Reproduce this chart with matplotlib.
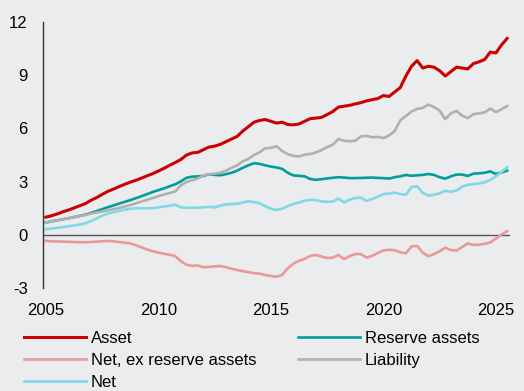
import numpy as np
import matplotlib
matplotlib.use("Agg")
import matplotlib.pyplot as plt

plt.rcParams['font.family'] = ['Liberation Sans', 'DejaVu Sans']

# quarterly observations, 2005Q1 .. 2025Q3
dates = 2005 + np.arange(83) * 0.25

asset = [1.00, 1.08, 1.18, 1.30, 1.40, 1.52, 1.64, 1.76, 1.95, 2.10,
         2.28, 2.45, 2.58, 2.72, 2.85, 2.97, 3.08, 3.20, 3.33, 3.45,
         3.60, 3.75, 3.92, 4.08, 4.25, 4.50, 4.62, 4.65, 4.80, 4.95,
         5.00, 5.10, 5.25, 5.40, 5.55, 5.85, 6.10, 6.35, 6.45, 6.50,
         6.40, 6.30, 6.35, 6.22, 6.20, 6.25, 6.40, 6.55, 6.58, 6.62,
         6.78, 6.95, 7.20, 7.25, 7.30, 7.38, 7.45, 7.55, 7.62, 7.68,
         7.85, 7.80, 8.05, 8.30, 8.95, 9.50, 9.82, 9.40, 9.50, 9.45,
         9.25, 8.95, 9.20, 9.45, 9.40, 9.35, 9.65, 9.75, 9.88, 10.30,
         10.25, 10.70, 11.07]

reserve = [0.70, 0.76, 0.82, 0.88, 0.94, 1.00, 1.07, 1.14, 1.24, 1.34,
           1.45, 1.56, 1.66, 1.76, 1.86, 1.96, 2.07, 2.18, 2.30, 2.42,
           2.52, 2.62, 2.74, 2.85, 3.02, 3.22, 3.28, 3.30, 3.32, 3.42,
           3.38, 3.36, 3.42, 3.50, 3.62, 3.78, 3.92, 4.04, 4.00, 3.92,
           3.85, 3.80, 3.72, 3.50, 3.35, 3.33, 3.30, 3.15, 3.10, 3.14,
           3.18, 3.22, 3.25, 3.23, 3.20, 3.20, 3.21, 3.22, 3.23, 3.21,
           3.20, 3.17, 3.25, 3.30, 3.38, 3.33, 3.36, 3.38, 3.43, 3.38,
           3.25, 3.17, 3.30, 3.40, 3.40, 3.32, 3.45, 3.47, 3.50, 3.58,
           3.43, 3.52, 3.62]

net_ex_reserve = [-0.34, -0.36, -0.37, -0.38, -0.39, -0.40, -0.41, -0.41, -0.40, -0.38,
                  -0.36, -0.34, -0.36, -0.40, -0.44, -0.48, -0.58, -0.70, -0.82, -0.92,
                  -1.00, -1.06, -1.12, -1.20, -1.48, -1.68, -1.75, -1.72, -1.82, -1.80,
                  -1.77, -1.75, -1.82, -1.90, -1.98, -2.04, -2.10, -2.15, -2.18, -2.26,
                  -2.32, -2.36, -2.25, -1.88, -1.62, -1.46, -1.35, -1.18, -1.13, -1.22,
                  -1.30, -1.28, -1.13, -1.36, -1.20, -1.08, -1.08, -1.28, -1.18, -1.02,
                  -0.88, -0.84, -0.86, -0.98, -1.04, -0.64, -0.62, -1.00, -1.20, -1.08,
                  -0.92, -0.72, -0.85, -0.88, -0.68, -0.48, -0.56, -0.55, -0.50, -0.43,
                  -0.20, 0.02, 0.21]

liability = [0.70, 0.76, 0.82, 0.88, 0.94, 1.00, 1.06, 1.12, 1.20, 1.26,
             1.32, 1.38, 1.45, 1.52, 1.60, 1.68, 1.78, 1.88, 1.98, 2.08,
             2.18, 2.28, 2.36, 2.45, 2.80, 2.98, 3.08, 3.18, 3.35, 3.42,
             3.45, 3.50, 3.62, 3.78, 3.92, 4.15, 4.28, 4.50, 4.66, 4.88,
             4.90, 5.00, 4.72, 4.55, 4.45, 4.42, 4.52, 4.56, 4.65, 4.78,
             4.95, 5.08, 5.40, 5.30, 5.28, 5.30, 5.55, 5.58, 5.50, 5.52,
             5.45, 5.60, 5.85, 6.45, 6.70, 6.95, 7.10, 7.15, 7.34, 7.20,
             7.00, 6.52, 6.85, 6.98, 6.72, 6.58, 6.80, 6.85, 6.90, 7.12,
             6.92, 7.08, 7.26]

net = [0.32, 0.36, 0.40, 0.44, 0.48, 0.53, 0.58, 0.65, 0.78, 0.92,
       1.08, 1.20, 1.28, 1.35, 1.42, 1.47, 1.50, 1.50, 1.50, 1.50,
       1.55, 1.60, 1.65, 1.70, 1.55, 1.52, 1.55, 1.53, 1.56, 1.58,
       1.55, 1.65, 1.72, 1.73, 1.76, 1.82, 1.90, 1.85, 1.78, 1.62,
       1.48, 1.40, 1.48, 1.62, 1.74, 1.83, 1.92, 1.98, 1.96, 1.88,
       1.87, 1.88, 2.05, 1.83, 1.98, 2.08, 2.10, 1.92, 2.02, 2.15,
       2.30, 2.33, 2.38, 2.30, 2.26, 2.70, 2.74, 2.36, 2.22, 2.26,
       2.34, 2.49, 2.43, 2.50, 2.72, 2.82, 2.86, 2.90, 2.96, 3.10,
       3.30, 3.55, 3.81]

years = [2005, 2010, 2015, 2020, 2025]
yticks = [-3, 0, 3, 6, 9, 12]

bg = '#EBECEE'
fig = plt.figure(figsize=(5.24, 3.91), dpi=100, facecolor=bg)
ax = fig.add_axes([0.082, 0.263, 0.891, 0.681], facecolor=bg)

ax.axhline(0, color='#555555', lw=1.0, zorder=1)
l_asset, = ax.plot(dates, asset, color='#CC0000', lw=2.2, label='Asset')
l_res, = ax.plot(dates, reserve, color='#009E9A', lw=1.9, label='Reserve assets')
l_nex, = ax.plot(dates, net_ex_reserve, color='#E89A9A', lw=1.9, label='Net, ex reserve assets')
l_liab, = ax.plot(dates, liability, color='#B0B0B0', lw=1.9, label='Liability')
l_net, = ax.plot(dates, net, color='#7FD9E6', lw=1.9, label='Net')

ax.set_xlim(2004.87, 2025.62)
ax.set_ylim(-3, 12)
ax.set_xticks(years)
ax.set_yticks(yticks)
ax.set_yticklabels([str(v) for v in yticks])
ax.tick_params(axis='both', length=0, labelsize=12, colors='#000000')
ax.tick_params(axis='x', pad=11)
ax.tick_params(axis='y', pad=11)
for side in ['top', 'right', 'bottom']:
    ax.spines[side].set_visible(False)
ax.spines['left'].set_color('#333333')
ax.spines['left'].set_linewidth(1.0)

handles = [l_asset, l_nex, l_net, l_res, l_liab]
fig.legend(handles, [h.get_label() for h in handles], ncol=2,
           loc='upper left', bbox_to_anchor=(0.046, 0.154), frameon=False,
           fontsize=12, handlelength=3.7, handletextpad=0.3,
           columnspacing=2.5, labelspacing=0.42, borderaxespad=0,
           borderpad=0)

fig.savefig('out.png', dpi=100, facecolor=bg)
